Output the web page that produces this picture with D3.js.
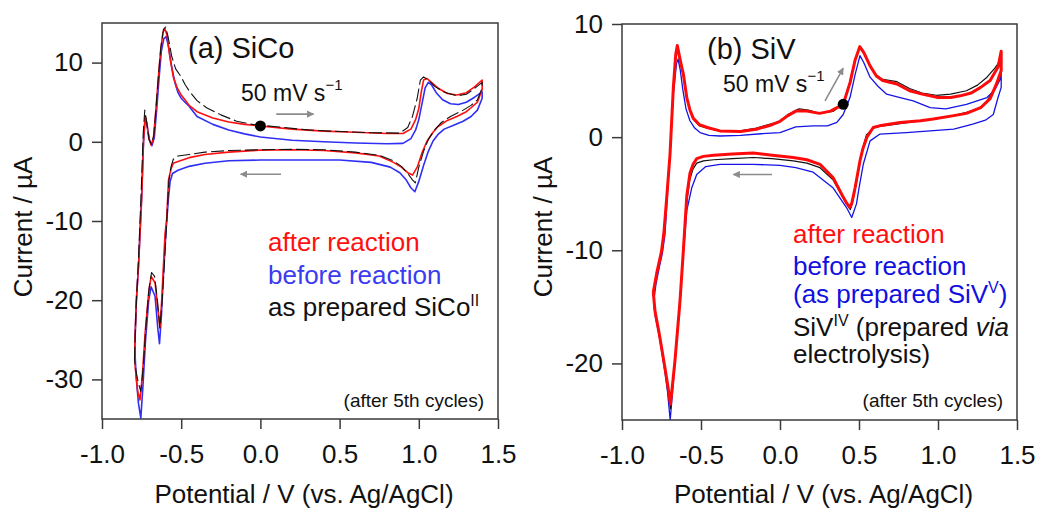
<!DOCTYPE html>
<meta charset="utf-8">
<style>
    body { margin: 0; background: #fff; }
    svg { font-family: "Liberation Sans", Arial, sans-serif; }
    .frame { fill: none; stroke: #3a3a3a; stroke-width: 1.5; }
    .axis path { display: none; }
    .axis line { stroke: #3a3a3a; stroke-width: 1.5; }
    .axis text { fill: #111; font-size: 26px; font-family: "Liberation Sans", Arial, sans-serif; }
</style>
<body>
<script src="https://d3js.org/d3.v7.min.js"></script>
<script>

// tick values
var xTicks = [-1.0, -0.5, 0.0, 0.5, 1.0, 1.5];
var aYTicks = [-30, -20, -10, 0, 10];
var bYTicks = [-20, -10, 0, 10];

// (a) SiCo : [potential V, current uA], anodic sweep then cathodic sweep
var aRed = [
    [-0.793, -25.5], [-0.783, -20], [-0.77, -15.8], [-0.75, -7.4], [-0.738, 0], [-0.728, 3.3],
    [-0.718, 2.5], [-0.705, 0.5], [-0.69, -0.4], [-0.675, 0.5], [-0.66, 4], [-0.645, 8],
    [-0.63, 11.5], [-0.615, 13.8], [-0.603, 14.3], [-0.59, 13.5], [-0.57, 10.5], [-0.55, 8.2],
    [-0.525, 6.8], [-0.5, 5.9], [-0.476, 5.3], [-0.45, 4.6], [-0.4, 3.8], [-0.3, 3.0],
    [-0.2, 2.5], [-0.1, 2.2], [0.0, 2.0], [0.2, 1.6], [0.4, 1.35], [0.6, 1.2], [0.8, 1.05],
    [0.9, 1.05], [0.95, 1.6], [0.98, 2.8], [1.0, 4.2], [1.015, 6.2], [1.03, 7.8], [1.05, 8.0],
    [1.08, 7.5], [1.12, 6.8], [1.18, 6.1], [1.24, 5.9], [1.3, 6.2], [1.35, 6.9], [1.4, 7.8],
    [1.4, 6.6], [1.37, 5.0], [1.33, 4.3], [1.3, 3.8], [1.24, 3.2], [1.18, 2.7], [1.12, 1.9],
    [1.09, 1.2], [1.05, 0.0], [1.02, -1.4], [0.99, -3.2], [0.96, -4.2], [0.93, -3.9],
    [0.89, -3.2], [0.84, -2.6], [0.75, -1.8], [0.6, -1.4], [0.4, -1.1], [0.2, -1.0],
    [0.0, -1.05], [-0.2, -1.3], [-0.35, -1.6], [-0.45, -2.0], [-0.52, -2.5], [-0.55, -2.7],
    [-0.565, -3.5], [-0.58, -4.8], [-0.592, -9.9], [-0.602, -11.6], [-0.623, -20],
    [-0.634, -23.5], [-0.645, -21.5], [-0.665, -17.8], [-0.69, -17], [-0.705, -19],
    [-0.728, -24.2], [-0.745, -29.5], [-0.76, -32.6], [-0.775, -31.5], [-0.79, -28.5],
    [-0.793, -25.5]
];
var aBlue = [
    [-0.793, -26], [-0.783, -20], [-0.769, -15.5], [-0.75, -7], [-0.738, 0], [-0.727, 3.0],
    [-0.715, 2.0], [-0.7, 0.2], [-0.685, -0.5], [-0.67, 0.5], [-0.655, 4], [-0.64, 8],
    [-0.625, 11.5], [-0.61, 13.0], [-0.595, 13.3], [-0.58, 12], [-0.56, 9.5], [-0.54, 7.5],
    [-0.52, 6.2], [-0.5, 5.5], [-0.476, 5.0], [-0.455, 4.6], [-0.4, 3.2], [-0.3, 2.2],
    [-0.2, 1.5], [-0.1, 1.0], [0.0, 0.6], [0.2, 0.2], [0.4, 0.0], [0.6, -0.15], [0.8, -0.25],
    [0.9, -0.2], [0.95, 0.4], [0.98, 1.5], [1.0, 2.8], [1.02, 4.8], [1.04, 6.8], [1.06, 7.5],
    [1.08, 7.2], [1.11, 6.2], [1.15, 5.3], [1.2, 4.8], [1.25, 4.7], [1.3, 5.0], [1.35, 5.6],
    [1.4, 6.3], [1.4, 5.5], [1.37, 4.0], [1.33, 3.2], [1.28, 2.6], [1.22, 2.1], [1.16, 1.6],
    [1.12, 0.9], [1.09, 0.1], [1.06, -1.2], [1.03, -3.0], [1.0, -5.0], [0.975, -6.3],
    [0.95, -5.8], [0.92, -4.8], [0.88, -3.9], [0.82, -3.2], [0.7, -2.6], [0.5, -2.3],
    [0.3, -2.3], [0.0, -2.3], [-0.2, -2.4], [-0.35, -2.7], [-0.45, -3.1], [-0.52, -3.6],
    [-0.555, -4.0], [-0.57, -5], [-0.58, -7], [-0.595, -11], [-0.61, -16], [-0.625, -22],
    [-0.637, -25.5], [-0.648, -23.5], [-0.665, -19.5], [-0.69, -18.3], [-0.705, -20],
    [-0.725, -25], [-0.742, -31], [-0.755, -34.9], [-0.77, -33], [-0.785, -29.5],
    [-0.793, -26]
];
var aBlack = [
    [-0.795, -27.5], [-0.785, -21], [-0.77, -15], [-0.752, -6], [-0.74, 1], [-0.73, 4.0],
    [-0.718, 2.5], [-0.703, 0.3], [-0.688, -0.3], [-0.673, 0.8], [-0.658, 4.5], [-0.643, 8.5],
    [-0.628, 12], [-0.612, 14.2], [-0.598, 14.5], [-0.582, 13.2], [-0.56, 10.8], [-0.535, 9.2],
    [-0.5, 8.2], [-0.475, 7.2], [-0.445, 6.3], [-0.4, 5.2], [-0.34, 4.3], [-0.25, 3.4],
    [-0.15, 2.6], [-0.05, 2.2], [0.1, 1.9], [0.3, 1.5], [0.5, 1.3], [0.7, 1.15], [0.88, 1.1],
    [0.93, 1.8], [0.96, 3.2], [0.99, 5.5], [1.01, 7.8], [1.03, 8.2], [1.06, 7.8], [1.1, 7.0],
    [1.16, 6.3], [1.24, 5.8], [1.3, 6.0], [1.35, 6.7], [1.4, 7.5], [1.4, 6.8], [1.37, 5.3],
    [1.33, 4.6], [1.28, 4.0], [1.2, 3.2], [1.14, 2.4], [1.1, 1.5], [1.06, 0.3], [1.03, -1.2],
    [1.0, -3.2], [0.978, -5.2], [0.96, -4.8], [0.93, -4.0], [0.89, -3.1], [0.84, -2.4],
    [0.75, -1.7], [0.6, -1.3], [0.4, -1.0], [0.2, -0.95], [0.0, -1.0], [-0.2, -1.1],
    [-0.35, -1.3], [-0.45, -1.6], [-0.52, -1.8], [-0.55, -2.2], [-0.565, -3.2], [-0.578, -5],
    [-0.59, -9.5], [-0.605, -15], [-0.62, -20], [-0.635, -23.5], [-0.65, -20], [-0.668, -17],
    [-0.687, -16.5], [-0.703, -18.5], [-0.72, -22.5], [-0.74, -28.5], [-0.755, -31.5],
    [-0.77, -30.5], [-0.785, -29], [-0.795, -27.5]
];

// (b) SiV
var bRed = [
    [-0.802, -13.7], [-0.78, -12.0], [-0.75, -10.1], [-0.735, -8.5], [-0.715, -5],
    [-0.696, -1.5], [-0.675, 4.4], [-0.66, 7.3], [-0.65, 8.1], [-0.64, 7.4], [-0.625, 6.4],
    [-0.612, 5.6], [-0.59, 3.5], [-0.57, 2.4], [-0.55, 1.7], [-0.51, 1.1], [-0.46, 0.85],
    [-0.38, 0.55], [-0.25, 0.5], [-0.15, 0.7], [-0.05, 1.1], [0.0, 1.4], [0.05, 1.9],
    [0.1, 2.3], [0.17, 2.3], [0.25, 2.1], [0.32, 2.3], [0.4, 2.9], [0.443, 4.8], [0.475, 6.8],
    [0.505, 8.0], [0.53, 7.5], [0.57, 6.3], [0.61, 5.4], [0.65, 5.0], [0.74, 4.7], [0.82, 4.1],
    [0.9, 3.8], [1.0, 3.5], [1.08, 3.5], [1.14, 3.65], [1.21, 3.9], [1.27, 4.4], [1.33, 5.0],
    [1.38, 6.2], [1.4, 7.6], [1.4, 5.9], [1.37, 4.7], [1.33, 3.4], [1.27, 2.6], [1.18, 2.1],
    [1.1, 1.9], [0.97, 1.6], [0.89, 1.45], [0.76, 1.3], [0.63, 1.0], [0.59, 0.85],
    [0.55, 0.0], [0.525, -1.0], [0.506, -2.1], [0.475, -4.5], [0.455, -5.8], [0.443, -6.2],
    [0.425, -5.9], [0.4, -5.3], [0.337, -3.6], [0.253, -2.4], [0.17, -2.0], [0.084, -1.8],
    [-0.05, -1.6], [-0.17, -1.4], [-0.3, -1.5], [-0.42, -1.6], [-0.485, -1.7], [-0.527, -1.9],
    [-0.55, -2.4], [-0.57, -3.2], [-0.59, -5.2], [-0.612, -10.1], [-0.633, -14.5],
    [-0.665, -19.8], [-0.693, -23.6], [-0.71, -22.0], [-0.728, -20.4], [-0.764, -17.4],
    [-0.791, -15.4], [-0.802, -13.7]
];
var bBlue = [
    [-0.8, -14.6], [-0.785, -13], [-0.764, -11.5], [-0.745, -10.3], [-0.728, -8.6],
    [-0.712, -5], [-0.695, -1.2], [-0.675, 3.8], [-0.655, 6.5], [-0.645, 6.9], [-0.632, 6.0],
    [-0.615, 4.2], [-0.595, 2.5], [-0.57, 1.45], [-0.54, 0.8], [-0.506, 0.4], [-0.45, 0.15],
    [-0.38, 0.1], [-0.25, 0.15], [-0.12, 0.3], [0.0, 0.4], [0.1, 0.9], [0.21, 1.0], [0.3, 1.0],
    [0.36, 1.3], [0.4, 2.0], [0.443, 3.5], [0.475, 5.5], [0.506, 7.2], [0.53, 6.6],
    [0.57, 5.3], [0.62, 4.5], [0.675, 3.8], [0.76, 3.5], [0.843, 3.2], [0.95, 2.6], [1.05, 2.5],
    [1.18, 2.9], [1.31, 3.5], [1.36, 4.2], [1.39, 5.0], [1.4, 5.7], [1.4, 4.4], [1.38, 3.5],
    [1.35, 2.0], [1.3, 1.5], [1.22, 1.15], [1.1, 0.7], [0.95, 0.55], [0.8, 0.4], [0.633, 0.27],
    [0.57, -0.33], [0.527, -2.4], [0.5, -4.5], [0.484, -5.9], [0.454, -7.1], [0.42, -6.2],
    [0.38, -5.4], [0.337, -4.5], [0.21, -3.1], [0.1, -2.7], [0.0, -2.5], [-0.17, -2.4],
    [-0.38, -2.4], [-0.47, -2.6], [-0.527, -3.3], [-0.559, -4.5], [-0.59, -6.5],
    [-0.612, -10.3], [-0.633, -14.7], [-0.665, -20.0], [-0.695, -25.0], [-0.712, -22.5],
    [-0.728, -20.8], [-0.764, -17.6], [-0.79, -15.8], [-0.8, -14.6]
];
var bBlack = [
    [-0.802, -13.8], [-0.78, -12.1], [-0.75, -10.2], [-0.735, -8.6], [-0.715, -5.1],
    [-0.696, -1.6], [-0.675, 4.2], [-0.66, 7.0], [-0.65, 7.7], [-0.64, 7.1], [-0.625, 6.2],
    [-0.612, 5.4], [-0.59, 3.4], [-0.57, 2.3], [-0.55, 1.6], [-0.51, 1.0], [-0.46, 0.8],
    [-0.38, 0.55], [-0.25, 0.55], [-0.15, 0.8], [-0.05, 1.2], [0.0, 1.4], [0.05, 2.0],
    [0.12, 2.5], [0.18, 2.4], [0.25, 2.1], [0.34, 2.3], [0.4, 3.0], [0.44, 4.8], [0.475, 6.8],
    [0.505, 7.9], [0.53, 7.4], [0.57, 6.3], [0.61, 5.5], [0.65, 5.1], [0.74, 4.9], [0.82, 4.3],
    [0.9, 3.9], [0.99, 3.7], [1.08, 3.8], [1.18, 4.1], [1.25, 4.6], [1.31, 5.3], [1.36, 6.1],
    [1.4, 6.9], [1.4, 5.7], [1.37, 4.6], [1.31, 3.2], [1.27, 2.6], [1.18, 2.2], [1.1, 1.9],
    [0.97, 1.6], [0.89, 1.45], [0.76, 1.2], [0.63, 0.95], [0.59, 0.8], [0.547, 0.2],
    [0.525, -0.9], [0.506, -2.2], [0.475, -4.7], [0.455, -6.0], [0.445, -6.4], [0.425, -6.0],
    [0.4, -5.4], [0.337, -3.8], [0.253, -2.7], [0.17, -2.3], [0.084, -2.1], [-0.05, -1.9],
    [-0.17, -1.8], [-0.3, -1.9], [-0.42, -2.0], [-0.485, -2.1], [-0.527, -2.3], [-0.55, -2.8],
    [-0.57, -3.7], [-0.59, -5.7], [-0.612, -10.1], [-0.633, -14.5], [-0.665, -19.8],
    [-0.693, -24.0], [-0.71, -22.2], [-0.728, -20.5], [-0.764, -17.5], [-0.791, -15.5],
    [-0.802, -13.8]
];

var svg = d3.select("body").append("svg")
    .attr("width", 1039)
    .attr("height", 510);

var defs = svg.append("defs");
defs.append("marker")
    .attr("id", "head")
    .attr("viewBox", "0 0 10 10")
    .attr("refX", 9).attr("refY", 5)
    .attr("markerWidth", 4.5).attr("markerHeight", 4.5)
    .attr("markerUnits", "strokeWidth")
    .attr("orient", "auto")
    .append("path")
    .attr("d", "M0,0 L10,5 L0,10 z")
    .attr("fill", "#8c8c8c");

function drawPanel(p) {
    var x = d3.scaleLinear().domain([-1.0, 1.5]).range([p.left, p.right]);
    var y = d3.scaleLinear().domain(p.yDomain).range([p.bottom, p.top]);
    var g = svg.append("g");

    g.append("clipPath").attr("id", "clip" + p.id)
        .append("rect")
        .attr("x", p.left).attr("y", p.top)
        .attr("width", p.right - p.left).attr("height", p.bottom - p.top);

    g.append("g")
        .attr("class", "axis")
        .attr("transform", "translate(0," + p.bottom + ")")
        .call(d3.axisBottom(x).tickValues(xTicks).tickSize(10).tickPadding(9)
            .tickFormat(function (d) { return d.toFixed(1); }))
        .selectAll("text").attr("dy", "0.95em");

    g.append("g")
        .attr("class", "axis")
        .attr("transform", "translate(" + p.left + ",0)")
        .call(d3.axisLeft(y).tickValues(p.yTicks).tickSize(10).tickPadding(9)
            .tickFormat(function (d) { return String(d); }));

    var line = d3.line()
        .x(function (d) { return x(d[0]); })
        .y(function (d) { return y(d[1]); });

    var curves = g.append("g").attr("clip-path", "url(#clip" + p.id + ")");
    p.series.forEach(function (s) {
        curves.append("path")
            .attr("d", line(s.values))
            .attr("fill", "none")
            .attr("stroke", s.color)
            .attr("stroke-width", s.width)
            .attr("stroke-linejoin", "round")
            .attr("stroke-dasharray", s.dash || null);
    });

    g.append("rect")
        .attr("class", "frame")
        .attr("x", p.left).attr("y", p.top)
        .attr("width", p.right - p.left).attr("height", p.bottom - p.top);

    // scan direction arrows and start point
    p.arrows.forEach(function (a) {
        g.append("line")
            .attr("x1", x(a[0])).attr("y1", y(a[1]))
            .attr("x2", x(a[2])).attr("y2", y(a[3]))
            .attr("stroke", "#8c8c8c")
            .attr("stroke-width", 1.6)
            .attr("marker-end", "url(#head)");
    });
    g.append("circle")
        .attr("cx", x(p.dot[0])).attr("cy", y(p.dot[1]))
        .attr("r", 5.5).attr("fill", "#000");

    // axis titles
    g.append("text")
        .attr("x", (p.left + p.right) / 2 + 4).attr("y", 503)
        .attr("text-anchor", "middle")
        .style("font-size", "26px").attr("fill", "#111")
        .text("Potential / V (vs. Ag/AgCl)");
    g.append("text")
        .attr("transform", "translate(" + (p.left - 70) + ",227) rotate(-90)")
        .attr("text-anchor", "middle")
        .style("font-size", "26px").attr("fill", "#111")
        .text("Current / µA");

    g.append("text")
        .attr("x", p.title[1]).attr("y", p.title[2])
        .style("font-size", "29px").attr("fill", "#111")
        .text(p.title[0]);

    var rate = g.append("text")
        .attr("x", p.rate[0]).attr("y", p.rate[1])
        .style("font-size", "23px").attr("fill", "#111");
    rate.append("tspan").text("50 mV s");
    rate.append("tspan").attr("dy", -11).style("font-size", "15px").text("−1");

    g.append("text")
        .attr("x", p.right - 14).attr("y", 407)
        .attr("text-anchor", "end")
        .style("font-size", "19px").attr("fill", "#111")
        .text("(after 5th cycles)");

    p.legend.forEach(function (l) {
        var t = g.append("text")
            .attr("x", p.legendX).attr("y", l.y)
            .style("font-size", "26px").attr("fill", l.color);
        l.parts.forEach(function (part) {
            var s = t.append("tspan").text(part.t);
            if (part.sup) s.attr("dy", -10).style("font-size", "16px");
            if (part.down) s.attr("dy", 10);
            if (part.italic) s.style("font-style", "italic");
        });
    });
}

drawPanel({
    id: "a", left: 102, right: 498, top: 23, bottom: 419,
    yDomain: [-35, 15], yTicks: aYTicks,
    series: [
        { values: aBlue, color: "#2f2ff5", width: 1.6 },
        { values: aRed, color: "#ff1010", width: 1.6 },
        { values: aBlack, color: "#111", width: 1.1, dash: "13,4" }
    ],
    arrows: [[0.1, 3.5, 0.335, 3.5], [0.13, -4.1, -0.125, -4.1]],
    dot: [0.0, 2.0],
    title: ["(a) SiCo", 188, 58],
    rate: [241, 101],
    legendX: 268,
    legend: [
        { y: 251, color: "#ff1010", parts: [{ t: "after reaction" }] },
        { y: 284, color: "#3b3bf0", parts: [{ t: "before reaction" }] },
        { y: 316, color: "#111", parts: [{ t: "as prepared SiCo" }, { t: "II", sup: true }] }
    ]
});

drawPanel({
    id: "b", left: 622, right: 1017, top: 24, bottom: 420,
    yDomain: [-25, 10], yTicks: bYTicks,
    series: [
        { values: bBlue, color: "#1414e6", width: 1.3 },
        { values: bBlack, color: "#111", width: 1.2 },
        { values: bRed, color: "#ff0a0a", width: 3 }
    ],
    arrows: [[0.285, 3.2, 0.4, 6.1], [-0.05, -3.3, -0.295, -3.3]],
    dot: [0.4, 2.9],
    title: ["(b) SiV", 707, 59],
    rate: [723, 92],
    legendX: 793,
    legend: [
        { y: 243, color: "#ff1010", parts: [{ t: "after reaction" }] },
        { y: 275, color: "#1010e0", parts: [{ t: "before reaction" }] },
        { y: 303, color: "#1010e0", parts: [{ t: "(as prepared SiV" }, { t: "V", sup: true }, { t: ")", down: true }] },
        { y: 336, color: "#111", parts: [{ t: "SiV" }, { t: "IV", sup: true }, { t: " (prepared ", down: true }, { t: "via", italic: true }] },
        { y: 363, color: "#111", parts: [{ t: "electrolysis)" }] }
    ]
});

</script>
</body>
